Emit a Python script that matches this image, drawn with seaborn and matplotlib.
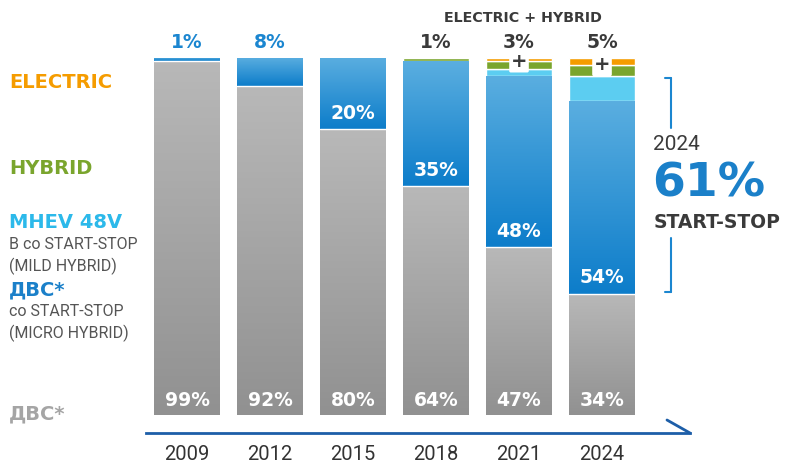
import numpy as np
import matplotlib
matplotlib.use("Agg")
import matplotlib.pyplot as plt
import seaborn as sns
from matplotlib.colors import LinearSegmentedColormap
from matplotlib.lines import Line2D

years = ["2009", "2012", "2015", "2018", "2021", "2024"]
ice = [99, 92, 80, 64, 47, 34]          # ДВС*
ice_ss = [1, 8, 20, 35, 48, 54]         # ДВС* со START-STOP
mhev = [0, 0, 0, 0, 2, 7]               # MHEV 48V
hybrid = [0, 0, 0, 1, 2, 3]
electric = [0, 0, 0, 0, 1, 2]
startstop_2024 = 61

W, H = 799, 466
GREY_T, GREY_B = "#b8b8b8", "#919191"
BLUE_T, BLUE_B = "#5aaee0", "#0d7dca"
CYAN = "#5ccdf1"
GREEN = "#7aa52d"
ORANGE = "#f59c00"
DARK = "#3a3a3a"
REG = ["Roboto", "DejaVu Sans"]


def fx(x):
    return x / W


def fy(y):
    return 1 - y / H


sns.set_theme(style="white")
plt.rcParams["font.family"] = ["DejaVu Sans"]

fig = plt.figure(figsize=(W / 100, H / 100), dpi=100)
ax = fig.add_axes([fx(146), fy(433), fx(690) - fx(146), (433 - 10) / H])

segments = [
    (ice, GREY_B, 0),
    (ice_ss, BLUE_B, 0),
    (mhev, CYAN, 1),
    (hybrid, GREEN, 1),
    (electric, ORANGE, 1),
]
bottom = np.zeros(len(years))
conts = []
for vals, col, lw in segments:
    sns.barplot(x=years, y=vals, bottom=bottom, color=col, width=0.795,
                edgecolor="white", linewidth=lw, saturation=1, ax=ax)
    conts.append(ax.containers[-1])
    bottom = bottom + np.array(vals)

# hide zero height bars
for c in conts:
    for p in c:
        if p.get_height() <= 0:
            p.set_visible(False)


def shade(patches, c_top, c_bot):
    cmap = LinearSegmentedColormap.from_list("g", [c_bot, c_top])
    grad = np.linspace(0, 1, 100).reshape(-1, 1)
    for p in patches:
        h = p.get_height()
        if h <= 0:
            continue
        x0, y0, w = p.get_x(), p.get_y(), p.get_width()
        im = ax.imshow(grad, cmap=cmap, extent=[x0, x0 + w, y0, y0 + h],
                       origin="lower", aspect="auto", zorder=p.get_zorder() + 0.1)
        im.set_clip_path(p)


shade(conts[0], GREY_T, GREY_B)
shade(conts[1], BLUE_T, BLUE_B)

# thin white line between grey and blue parts
for i, p in enumerate(conts[1]):
    if ice_ss[i] > 0:
        ax.plot([p.get_x(), p.get_x() + p.get_width()], [ice[i], ice[i]],
                color="white", lw=1, zorder=4)

ax.set_xlim(-0.494, 6.06)
ax.set_ylim(-5.04, 113.4)
ax.set_yticks([])
for s in ["left", "right", "top"]:
    ax.spines[s].set_visible(False)
ax.spines["bottom"].set_color("#1d5ea8")
ax.spines["bottom"].set_linewidth(2)
ax.tick_params(axis="x", length=0, pad=9, labelsize=14.5, labelcolor="#333333")
for t in ax.get_xticklabels():
    t.set_family(REG)

# arrow head
fig.add_artist(Line2D([fx(667), fx(690)], [fy(420), fy(433)], color="#1d5ea8", lw=2))

# labels
lab = dict(ha="center", va="center", fontsize=13.5, fontweight="bold", zorder=5)
for i in range(len(years)):
    ax.text(i, 4.2, f"{ice[i]}%", color="white", **lab)
    top_extra = hybrid[i] + electric[i]
    if ice_ss[i] < 10:
        ax.text(i, 104.2, f"{ice_ss[i]}%", color="#1b86d0", **lab)
    else:
        ax.text(i, ice[i] + 4.5, f"{ice_ss[i]}%", color="white", **lab)
    if top_extra > 0:
        ax.text(i, 104.2, f"{top_extra}%", color=DARK, **lab)
    if electric[i] > 0:
        ax.text(i, 100 - electric[i], "+", color=DARK, ha="center", va="center",
                fontsize=14, fontweight="bold", zorder=5,
                bbox=dict(boxstyle="round,pad=0.08", fc="white", ec="none"))

fig.text(fx(523), fy(18), "ELECTRIC + HYBRID", ha="center", va="center",
         fontsize=10.3, fontweight="bold", color=DARK)

# legend texts
fig.text(fx(9), fy(83), "ELECTRIC", color=ORANGE, fontsize=14, fontweight="bold", va="center")
fig.text(fx(9), fy(169), "HYBRID", color=GREEN, fontsize=14, fontweight="bold", va="center")
fig.text(fx(9), fy(222), "MHEV 48V", color="#2cb9ea", fontsize=14, fontweight="bold", va="center")
fig.text(fx(9), fy(245), "В со START-STOP", color="#555555", fontsize=11.5, va="center", family=REG)
fig.text(fx(9), fy(266), "(MILD HYBRID)", color="#555555", fontsize=11.5, va="center", family=REG)
fig.text(fx(9), fy(290), "ДВС*", color="#1b80c9", fontsize=14, fontweight="bold", va="center")
fig.text(fx(9), fy(312), "со START-STOP", color="#555555", fontsize=11.5, va="center", family=REG)
fig.text(fx(9), fy(333), "(MICRO HYBRID)", color="#555555", fontsize=11.5, va="center", family=REG)
fig.text(fx(9), fy(414), "ДВС*", color="#a5a5a5", fontsize=14, fontweight="bold", va="center")

# right side bracket + 2024 callout
bc = "#1b86d0"
for y0, y1 in [(78, 128), (238, 292)]:
    fig.add_artist(Line2D([fx(671), fx(671)], [fy(y0), fy(y1)], color=bc, lw=1.5))
fig.add_artist(Line2D([fx(665), fx(671)], [fy(78), fy(78)], color=bc, lw=1.5))
fig.add_artist(Line2D([fx(665), fx(671)], [fy(292), fy(292)], color=bc, lw=1.5))
fig.text(fx(653), fy(145), "2024", color=DARK, fontsize=15, va="center", family=REG)
fig.text(fx(652), fy(184), f"{startstop_2024}%", color="#1b80c9", fontsize=34,
         fontweight="bold", va="center")
fig.text(fx(654), fy(223), "START-STOP", color=DARK, fontsize=13.5, fontweight="bold", va="center")

fig.savefig("out.png", dpi=100)
